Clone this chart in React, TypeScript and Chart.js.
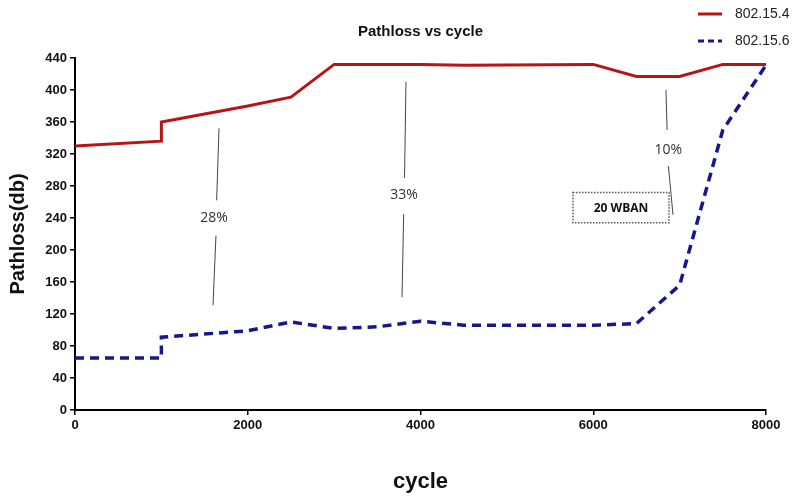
import React, { useEffect, useRef } from "react";
import { Chart, registerables } from "chart.js";

Chart.register(...registerables);

const cycles = [0, 1000, 1000, 2000, 2500, 3000, 4000, 4500, 6000, 6500, 7000, 7500, 8000];
const pathloss4 = [330, 336, 360, 380, 391, 432, 432, 431, 432, 417, 417, 432, 432];
const cycles6 = [0, 1000, 1000, 2000, 2500, 3000, 3500, 4000, 4500, 6000, 6500, 7000, 7500, 8000];
const pathloss6 = [65, 65, 91, 99, 110, 102, 104, 111, 106, 106, 108, 156, 350, 431];
const seriesNames = ["802.15.4", "802.15.6"];
const yTicks = [0, 40, 80, 120, 160, 200, 240, 280, 320, 360, 400, 440];
const xTicks = [0, 2000, 4000, 6000, 8000];

// annotation callouts (data coordinates): label, text position, line segments
const calloutLabels = ["28%", "33%", "10%"];
const calloutTextX = [1610, 3810, 6870];
const calloutTextY = [240, 269, 325];
const calloutSegments = [
  [[1667, 352, 1640, 262], [1632, 218, 1598, 131]],
  [[3832, 410, 3815, 290], [3805, 245, 3786, 141]],
  [[6842, 400, 6855, 350], [6870, 305, 6923, 244]],
];
const boxLabel = "20 WBAN";
const boxRange = [5765, 6877, 272, 234];

const RED = "#B51515";
const BLUE = "#16168F";

export default function App() {
  const ref = useRef<HTMLCanvasElement>(null);
  useEffect(() => {
    if (!ref.current) return;
    const overlay = {
      id: "overlay",
      afterDraw(chart: any) {
        const ctx = chart.ctx;
        const xs = chart.scales.x;
        const ys = chart.scales.y;
        const px = (v: number) => xs.getPixelForValue(v);
        const py = (v: number) => ys.getPixelForValue(v);
        ctx.save();
        ctx.strokeStyle = "#444";
        ctx.lineWidth = 1;
        calloutSegments.forEach((segs) => {
          segs.forEach((s) => {
            ctx.beginPath();
            ctx.moveTo(px(s[0]), py(s[1]));
            ctx.lineTo(px(s[2]), py(s[3]));
            ctx.stroke();
          });
        });
        ctx.fillStyle = "#333";
        ctx.font = "14px 'Open Sans', sans-serif";
        ctx.textAlign = "center";
        ctx.textBaseline = "middle";
        calloutLabels.forEach((l, i) => {
          ctx.fillText(l, px(calloutTextX[i]), py(calloutTextY[i]));
        });
        const bx0 = px(boxRange[0]), bx1 = px(boxRange[1]);
        const by0 = py(boxRange[2]), by1 = py(boxRange[3]);
        ctx.setLineDash([1.5, 1.5]);
        ctx.strokeStyle = "#555";
        ctx.lineWidth = 1.5;
        ctx.strokeRect(bx0, by0, bx1 - bx0, by1 - by0);
        ctx.setLineDash([]);
        ctx.fillStyle = "#111";
        ctx.font = "bold 12px 'Open Sans', sans-serif";
        ctx.fillText(boxLabel, (bx0 + bx1) / 2, (by0 + by1) / 2 + 1);
        const lx0 = 698, lx1 = 722;
        const ly = [14, 41];
        const colors = [RED, BLUE];
        ctx.font = "14px 'Liberation Sans', Arial, sans-serif";
        ctx.textAlign = "left";
        seriesNames.forEach((n, i) => {
          ctx.strokeStyle = colors[i];
          ctx.lineWidth = 3;
          ctx.setLineDash(i === 1 ? [6, 4] : []);
          ctx.beginPath();
          ctx.moveTo(lx0, ly[i]);
          ctx.lineTo(lx1, ly[i]);
          ctx.stroke();
          ctx.setLineDash([]);
          ctx.fillStyle = "#222";
          ctx.fillText(n, 735, ly[i]);
        });
        ctx.restore();
      },
    };
    const chart = new Chart(ref.current, {
      type: "line",
      data: {
        datasets: [
          {
            label: seriesNames[0],
            data: cycles.map((c, i) => ({ x: c, y: pathloss4[i] })),
            borderColor: RED,
            borderWidth: 3,
            pointRadius: 0,
            tension: 0,
          },
          {
            label: seriesNames[1],
            data: cycles6.map((c, i) => ({ x: c, y: pathloss6[i] })),
            borderColor: BLUE,
            borderWidth: 3.5,
            borderDash: [9, 6],
            pointRadius: 0,
            tension: 0,
          },
        ],
      },
      options: {
        responsive: false,
        animation: false,
        layout: { padding: { left: 0, right: 40, top: 0, bottom: 0 } },
        plugins: {
          legend: { display: false },
          tooltip: { enabled: false },
          title: {
            display: true,
            text: "Pathloss vs cycle",
            fullSize: false,
            color: "#111",
            font: { family: "'Liberation Sans', Arial, sans-serif", size: 15, weight: "bold" },
            padding: { top: 23, bottom: 17 },
          },
        },
        scales: {
          x: {
            type: "linear",
            min: 0,
            max: 8000,
            afterBuildTicks: (s: any) => {
              s.ticks = xTicks.map((v) => ({ value: v }));
            },
            ticks: {
              color: "#111",
              font: { family: "'Liberation Sans', Arial, sans-serif", size: 13, weight: "bold" },
              padding: 3,
              maxRotation: 0,
              callback: (v: any) => String(v),
            },
            grid: { drawOnChartArea: false, drawTicks: true, tickLength: 5, color: "#000", lineWidth: 1.5 },
            border: { color: "#000", width: 2 },
            title: {
              display: true,
              text: "cycle",
              color: "#111",
              font: { family: "'Liberation Sans', Arial, sans-serif", size: 22, weight: "bold" },
              padding: { top: 32, bottom: 1 },
            },
          },
          y: {
            min: 0,
            max: 440,
            afterBuildTicks: (s: any) => {
              s.ticks = yTicks.map((v) => ({ value: v }));
            },
            afterFit: (s: any) => {
              s.width = 75;
            },
            ticks: {
              color: "#111",
              font: { family: "'Liberation Sans', Arial, sans-serif", size: 13, weight: "bold" },
              padding: 3,
              callback: (v: any) => String(v),
            },
            grid: { drawOnChartArea: false, drawTicks: true, tickLength: 5, color: "#000", lineWidth: 1.5 },
            border: { color: "#000", width: 2 },
            title: {
              display: true,
              text: "Pathloss(db)",
              color: "#111",
              font: { family: "'Liberation Sans', Arial, sans-serif", size: 20, weight: "bold" },
              padding: 6,
            },
          },
        },
      },
      plugins: [overlay],
    });
    return () => chart.destroy();
  }, []);
  return (
    <div style={{ position: "absolute", left: 0, top: 0, width: 806, height: 496, background: "#fff" }}>
      <canvas ref={ref} width={806} height={496} />
    </div>
  );
}
